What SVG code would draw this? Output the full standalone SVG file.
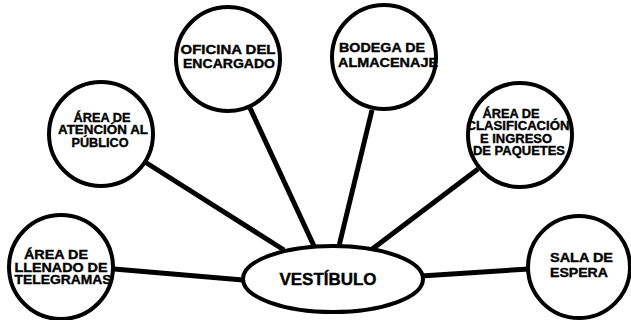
<svg xmlns="http://www.w3.org/2000/svg" width="631" height="320" viewBox="0 0 631 320">
<style>
.node{fill:#fff;stroke:#000;stroke-width:4}
.conn{stroke:#000;stroke-width:5;stroke-linecap:butt;fill:none}
text{font-family:"Liberation Sans",Arial,sans-serif;font-weight:bold;font-size:12px;fill:#000;stroke:#000;stroke-width:0.35}
.big{font-size:16px;stroke-width:0.4}
</style>
<rect width="631" height="320" fill="#fff"/>
<g id="connectors">
<line class="conn" x1="250" y1="108" x2="314" y2="246"/>
<line class="conn" x1="145" y1="162" x2="284" y2="250"/>
<line class="conn" x1="372" y1="110" x2="339" y2="246"/>
<line class="conn" x1="478" y1="169" x2="371" y2="250"/>
<line class="conn" x1="114" y1="269" x2="243" y2="280"/>
<line class="conn" x1="421" y1="276" x2="529" y2="269"/>
</g>
<g id="oficina">
<circle class="node" cx="228" cy="59" r="52"/>
<text x="228" y="54" text-anchor="middle" textLength="95" lengthAdjust="spacingAndGlyphs">OFICINA DEL</text>
<text x="229" y="68" text-anchor="middle" textLength="92" lengthAdjust="spacingAndGlyphs">ENCARGADO</text>
</g>
<g id="atencion">
<circle class="node" cx="101" cy="134" r="52"/>
<text x="102" y="122" text-anchor="middle" textLength="57" lengthAdjust="spacingAndGlyphs">ÁREA DE</text>
<text x="103" y="134" text-anchor="middle" textLength="90" lengthAdjust="spacingAndGlyphs">ATENCIÓN AL</text>
<text x="100" y="147" text-anchor="middle" textLength="57" lengthAdjust="spacingAndGlyphs">PÚBLICO</text>
</g>
<g id="bodega">
<circle class="node" cx="384" cy="57" r="52"/>
<text x="339" y="52" textLength="86" lengthAdjust="spacingAndGlyphs">BODEGA DE</text>
<text x="338" y="67" textLength="100" lengthAdjust="spacingAndGlyphs">ALMACENAJE</text>
</g>
<g id="clasificacion">
<circle class="node" cx="520" cy="135" r="52"/>
<text x="511" y="118" text-anchor="middle" textLength="57" lengthAdjust="spacingAndGlyphs">ÁREA DE</text>
<text x="518" y="130" text-anchor="middle" textLength="103" lengthAdjust="spacingAndGlyphs">CLASIFICACIÓN</text>
<text x="516" y="143" text-anchor="middle" textLength="72" lengthAdjust="spacingAndGlyphs">E INGRESO</text>
<text x="519" y="155" text-anchor="middle" textLength="92" lengthAdjust="spacingAndGlyphs">DE PAQUETES</text>
</g>
<g id="llenado">
<circle class="node" cx="61" cy="267" r="52"/>
<text x="56" y="259" text-anchor="middle" textLength="64" lengthAdjust="spacingAndGlyphs">ÁREA DE</text>
<text x="61" y="272" text-anchor="middle" textLength="93" lengthAdjust="spacingAndGlyphs">LLENADO DE</text>
<text x="63" y="284" text-anchor="middle" textLength="97" lengthAdjust="spacingAndGlyphs">TELEGRAMAS</text>
</g>
<g id="sala">
<circle class="node" cx="579" cy="267" r="51"/>
<text x="550" y="262" textLength="63" lengthAdjust="spacingAndGlyphs">SALA DE</text>
<text x="550" y="277" textLength="58" lengthAdjust="spacingAndGlyphs">ESPERA</text>
</g>
<g id="vestibulo">
<ellipse class="node" cx="333" cy="279" rx="90" ry="33"/>
<text class="big" x="328" y="285" text-anchor="middle" textLength="97" lengthAdjust="spacingAndGlyphs">VESTÍBULO</text>
</g>
</svg>
